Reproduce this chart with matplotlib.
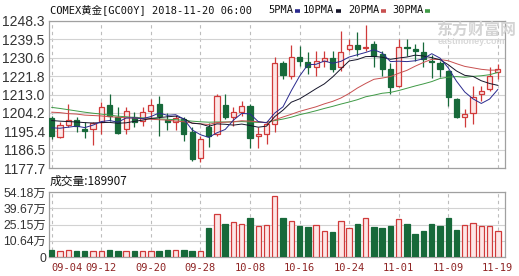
import numpy as np
import matplotlib
matplotlib.use("Agg")
import matplotlib.pyplot as plt
from matplotlib.lines import Line2D

plt.rcParams["font.family"] = ["Liberation Sans", "Noto Sans CJK SC"]

# trading days shown (COMEX gold continuous, daily)
dates = ["09-04", "09-05", "09-06", "09-07", "09-10", "09-11", "09-12", "09-13", "09-14",
         "09-17", "09-18", "09-19", "09-20", "09-21", "09-24", "09-25", "09-26", "09-27",
         "09-28", "10-01", "10-02", "10-03", "10-04", "10-05", "10-08", "10-09", "10-10",
         "10-11", "10-12", "10-15", "10-16", "10-17", "10-18", "10-19", "10-22", "10-23",
         "10-24", "10-25", "10-26", "10-29", "10-30", "10-31", "11-01", "11-02", "11-05",
         "11-06", "11-07", "11-08", "11-09", "11-12", "11-13", "11-14", "11-15", "11-16",
         "11-19"]

opens = [1201.6, 1192.8, 1198.3, 1200.7, 1196.6, 1196.3, 1199.6, 1207.9, 1202.0, 1196.3,
         1202.0, 1200.3, 1205.2, 1208.4, 1200.8, 1199.6, 1201.2, 1194.8, 1182.7, 1197.6,
         1193.9, 1207.9, 1202.0, 1204.7, 1207.6, 1193.1, 1193.9, 1198.7, 1228.0, 1222.0,
         1230.8, 1228.4, 1226.3, 1229.2, 1230.5, 1226.0, 1234.8, 1236.8, 1235.2, 1237.2,
         1232.4, 1225.2, 1217.2, 1236.0, 1234.8, 1233.5, 1229.2, 1228.0, 1224.4, 1210.8,
         1202.3, 1203.9, 1213.2, 1215.6, 1223.6]
highs = [1202.5, 1199.6, 1208.4, 1202.0, 1199.8, 1200.0, 1209.2, 1213.2, 1206.8, 1206.8,
         1204.4, 1206.8, 1210.8, 1212.4, 1204.0, 1203.0, 1202.0, 1197.2, 1193.1, 1199.4,
         1213.2, 1213.2, 1206.8, 1210.0, 1208.4, 1197.2, 1199.6, 1230.8, 1229.0, 1236.9,
         1236.4, 1233.2, 1233.7, 1233.7, 1233.7, 1243.6, 1239.6, 1242.9, 1246.4, 1238.8,
         1234.0, 1228.0, 1239.6, 1239.6, 1237.2, 1238.0, 1232.0, 1229.0, 1225.0, 1211.5,
         1206.0, 1217.2, 1217.2, 1226.3, 1227.6]
lows = [1191.5, 1191.9, 1197.2, 1194.8, 1192.3, 1188.7, 1193.9, 1200.3, 1194.0, 1193.9,
        1197.2, 1197.9, 1201.2, 1193.1, 1196.0, 1196.0, 1190.7, 1181.1, 1180.6, 1188.0,
        1193.1, 1201.2, 1198.0, 1202.8, 1187.1, 1187.5, 1189.1, 1194.8, 1220.4, 1220.4,
        1226.8, 1222.8, 1222.0, 1226.0, 1223.6, 1224.4, 1234.0, 1231.6, 1234.0, 1226.3,
        1222.0, 1213.2, 1216.4, 1231.6, 1229.2, 1226.0, 1221.0, 1221.2, 1207.6, 1201.5,
        1197.2, 1198.7, 1209.7, 1214.5, 1220.4]
closes = [1193.1, 1198.3, 1200.7, 1198.0, 1195.6, 1199.1, 1206.8, 1202.8, 1194.4, 1205.2,
          1200.0, 1204.7, 1207.9, 1202.8, 1199.6, 1201.5, 1194.0, 1181.9, 1191.5, 1193.1,
          1212.4, 1202.0, 1204.4, 1207.6, 1192.3, 1193.9, 1198.7, 1228.0, 1222.5, 1230.8,
          1228.9, 1226.3, 1229.2, 1230.5, 1225.2, 1233.2, 1236.8, 1234.8, 1236.0, 1231.6,
          1225.2, 1216.4, 1235.7, 1235.2, 1233.7, 1230.0, 1228.4, 1225.2, 1211.6, 1202.0,
          1203.6, 1211.9, 1214.5, 1222.0, 1225.2]

# moving averages as drawn on the chart
ma5 = [1197.0, 1196.8, 1197.3, 1197.8, 1197.1, 1198.3, 1200.0, 1200.5, 1199.7, 1201.7,
       1201.8, 1201.4, 1202.4, 1204.1, 1203.0, 1203.3, 1201.2, 1196.0, 1193.7, 1192.4,
       1194.6, 1196.2, 1200.7, 1203.9, 1203.7, 1200.0, 1199.4, 1204.1, 1207.1, 1214.8,
       1221.8, 1227.3, 1227.5, 1229.1, 1228.0, 1228.9, 1231.0, 1232.1, 1233.2, 1234.5,
       1232.9, 1228.8, 1229.0, 1228.8, 1229.2, 1230.2, 1232.6, 1230.5, 1225.8, 1219.4,
       1214.2, 1210.9, 1208.7, 1210.8, 1215.4]
ma10 = [1200.5, 1200.2, 1200.0, 1199.8, 1199.5, 1199.3, 1199.5, 1199.6, 1199.2, 1199.4,
        1200.1, 1200.7, 1201.5, 1201.9, 1202.3, 1202.6, 1201.3, 1199.2, 1198.9, 1197.7,
        1198.9, 1198.7, 1198.3, 1198.8, 1198.1, 1197.3, 1197.8, 1202.4, 1205.5, 1209.3,
        1210.9, 1213.3, 1215.8, 1218.1, 1221.4, 1225.3, 1229.1, 1229.8, 1231.2, 1231.3,
        1230.9, 1229.9, 1230.5, 1231.0, 1231.9, 1231.5, 1230.7, 1229.7, 1227.3, 1224.3,
        1222.2, 1221.7, 1219.6, 1218.3, 1217.4]
ma20 = [1204.5, 1204.3, 1203.8, 1203.6, 1203.1, 1202.9, 1202.7, 1202.3, 1202.1, 1201.8,
        1201.7, 1201.4, 1201.1, 1200.9, 1200.7, 1200.2, 1199.9, 1199.3, 1198.9, 1198.6,
        1199.5, 1199.7, 1199.9, 1200.4, 1200.2, 1199.9, 1199.5, 1200.8, 1202.2, 1203.5,
        1204.9, 1206.0, 1207.1, 1208.5, 1209.7, 1211.3, 1213.5, 1216.1, 1218.3, 1220.3,
        1220.9, 1221.6, 1223.2, 1224.6, 1226.6, 1228.4, 1229.9, 1229.8, 1229.2, 1227.8,
        1226.5, 1225.8, 1225.1, 1224.7, 1224.7]
ma30 = [1206.8, 1206.3, 1205.7, 1205.1, 1204.5, 1204.0, 1203.6, 1203.1, 1202.6, 1202.3,
        1202.0, 1201.8, 1201.6, 1201.3, 1201.1, 1200.9, 1200.6, 1200.2, 1199.9, 1199.7,
        1199.8, 1199.8, 1199.9, 1200.0, 1199.8, 1199.6, 1199.6, 1200.5, 1201.2, 1202.1,
        1203.3, 1204.2, 1205.2, 1206.3, 1207.3, 1208.4, 1209.4, 1210.5, 1211.9, 1212.7,
        1213.6, 1214.0, 1214.9, 1216.0, 1217.1, 1218.1, 1219.2, 1220.7, 1221.3, 1221.6,
        1221.3, 1221.7, 1222.0, 1222.5, 1223.6]

volumes = [25800, 14000, 22900, 14000, 14000, 14000, 14000, 25800, 17000, 14000,
           14000, 14000, 14000, 14000, 22900, 22900, 22900, 14000, 14000, 219300,
           348300, 254500, 277900, 254500, 313100, 239800, 245700, 503700, 313100, 283800,
           239800, 231000, 248600, 190000, 184100, 283800, 216300, 254500, 310200, 231000,
           222200, 236900, 301400, 254500, 166500, 192900, 254500, 236900, 307200, 201700,
           245700, 269100, 233900, 233900, 189907]

price_ticks = [1177.7, 1186.5, 1195.4, 1204.2, 1213.0, 1221.8, 1230.6, 1239.5, 1248.3]
vol_ticks = [-38700, 106400, 251500, 396700, 541800]
vol_tick_labels = ["0", "10.64万", "25.15万", "39.67万", "54.18万"]

ma_names = ["5PMA", "10PMA", "20PMA", "30PMA"]
ma_colors = ["#2a2a8e", "#15152a", "#c85050", "#3f9a46"]

UP_EDGE = "#d03a3a"
UP_FILL = "#fde6e6"
DOWN = "#17693a"
GRID = "#d2d2d2"
SPINE = "#a0a0a0"

x = np.arange(len(dates))
o, h, l, c = map(np.asarray, (opens, highs, lows, closes))
up = c >= o

fig = plt.figure(figsize=(5.19, 2.76), dpi=100)
ax = fig.add_axes([49 / 519, 1 - 168 / 276, 456 / 519, 147 / 276])
axv = fig.add_axes([49 / 519, 1 - 257 / 276, 456 / 519, 65 / 276])

for a in (ax, axv):
    a.set_xlim(-0.33, 54.87)
    a.set_xticks(x[::6])
    a.grid(axis="x", color="#bdbdbd", lw=0.8, ls=(0, (3, 3)))
    a.grid(axis="y", color=GRID, lw=0.8)
    a.set_axisbelow(True)
    a.tick_params(length=0, labelsize=10, colors="#333333", pad=3)
    for s in a.spines.values():
        s.set_color(SPINE)
        s.set_linewidth(0.9)

# price panel: candles
wick_cols = np.where(up, UP_EDGE, DOWN)
ax.vlines(x, l, h, colors=wick_cols, lw=0.9, zorder=2)
body_lo = np.minimum(o, c)
body_h = np.maximum(np.abs(c - o), 0.4)
ax.bar(x[up], body_h[up], bottom=body_lo[up], width=0.62, color=UP_FILL,
       edgecolor=UP_EDGE, lw=0.9, zorder=3)
ax.bar(x[~up], body_h[~up], bottom=body_lo[~up], width=0.62, color=DOWN,
       edgecolor=DOWN, lw=0.9, zorder=3)
for vals, col in zip((ma30, ma20, ma10, ma5), ma_colors[::-1]):
    ax.plot(x, vals, color=col, lw=0.7, zorder=4)

ax.set_ylim(price_ticks[0], price_ticks[-1])
ax.set_yticks(price_ticks)
ax.set_yticklabels([f"{t:.1f}" for t in price_ticks])
ax.set_xticklabels([])

# volume panel
v = np.asarray(volumes, float)
vb = vol_ticks[0]
axv.bar(x[up], v[up] - vb, bottom=vb, width=0.66, color=UP_FILL,
        edgecolor=UP_EDGE, lw=0.9, zorder=3)
axv.bar(x[~up], v[~up] - vb, bottom=vb, width=0.66, color=DOWN,
        edgecolor=DOWN, lw=0.9, zorder=3)
axv.set_ylim(vol_ticks[0], vol_ticks[-1])
axv.set_yticks(vol_ticks)
axv.set_yticklabels(vol_tick_labels, fontsize=8.8)
axv.tick_params(axis="y", pad=2)
axv.set_xticklabels(dates[::6], family=["DejaVu Sans Mono"], fontsize=7.5,
                    color="#8e2323")
axv.tick_params(axis="x", pad=4)
axv.get_xticklabels()[0].set_horizontalalignment("left")

# header and legend
mono = ["DejaVu Sans Mono", "Noto Sans CJK SC"]
fig.text(50 / 519, 1 - 10 / 276, "COMEX黄金[GC00Y] 2018-11-20 06:00", family=mono,
         fontsize=7.5, va="center", color="#111111")
leg_x = [268, 303, 348, 392]
for name, col, lx in zip(ma_names, ma_colors, leg_x):
    fig.text(lx / 519, 1 - 10 / 276, name, family=mono, fontsize=7.5,
             va="center", color="#111111")
    tw = 0.602 * 7.5 * len(name) * 100 / 72
    x0 = (lx + tw + 2) / 519
    fig.add_artist(Line2D([x0, x0 + 5 / 519], [1 - 11 / 276] * 2, color=col,
                          lw=2.6, solid_capstyle="butt"))

fig.text(50 / 519, 1 - 181 / 276, f"成交量:{volumes[-1]}", fontsize=8.5,
         family=["Noto Sans CJK SC"], va="center", color="#111111")

# watermark
fig.text(436 / 519, 1 - 30 / 276, "东方财富网", fontsize=11.5, weight="bold",
         family=["Noto Sans CJK SC"], color="#d4d4d4", va="center", zorder=0)
fig.text(438 / 519, 1 - 41 / 276, "eastmoney.com", fontsize=6.5, weight="bold",
         color="#d8d8d8", va="center", zorder=0)

fig.savefig("out.png", dpi=100, facecolor="white")
